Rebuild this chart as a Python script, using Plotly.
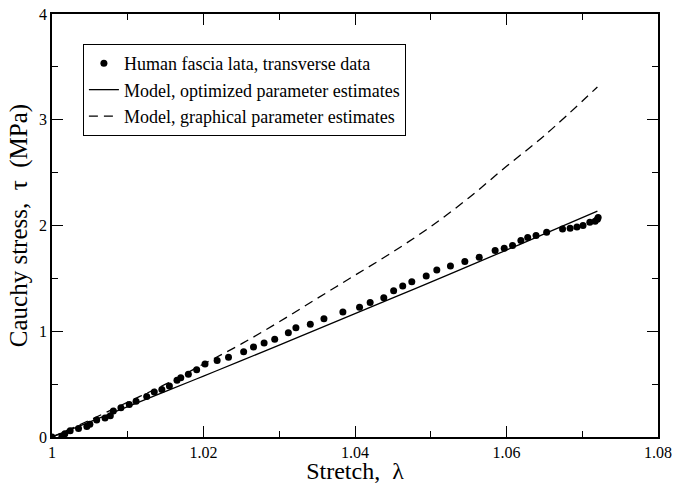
import plotly.graph_objects as go

# Experimental data (stretch, Cauchy stress in MPa)
data_stretch = [1.0000, 1.0013, 1.0017, 1.0024, 1.0035, 1.0046, 1.0050, 1.0059, 1.0070, 1.0077,
                1.0081, 1.0091, 1.0102, 1.0111, 1.0125, 1.0135, 1.0145, 1.0155, 1.0165, 1.0170,
                1.0180, 1.0191, 1.0202, 1.0218, 1.0233, 1.0253, 1.0266, 1.0280, 1.0294, 1.0312,
                1.0322, 1.0341, 1.0359, 1.0384, 1.0406, 1.0420, 1.0438, 1.0451, 1.0463, 1.0475,
                1.0494, 1.0508, 1.0526, 1.0545, 1.0564, 1.0585, 1.0597, 1.0608, 1.0619, 1.0628,
                1.0639, 1.0653, 1.0674, 1.0684, 1.0693, 1.0701, 1.0710, 1.0717, 1.0720, 1.0721]
data_stress = [0.000, 0.008, 0.030, 0.060, 0.080, 0.100, 0.120, 0.160, 0.180, 0.200,
               0.245, 0.277, 0.308, 0.337, 0.384, 0.425, 0.448, 0.482, 0.536, 0.560,
               0.593, 0.637, 0.690, 0.724, 0.755, 0.805, 0.852, 0.890, 0.925, 0.985,
               1.032, 1.067, 1.118, 1.181, 1.226, 1.273, 1.317, 1.383, 1.428, 1.469,
               1.523, 1.580, 1.618, 1.659, 1.700, 1.763, 1.785, 1.810, 1.858, 1.886,
               1.905, 1.937, 1.966, 1.975, 1.985, 2.000, 2.030, 2.040, 2.060, 2.075]

# Model curves
model_stretch = [1.000, 1.005, 1.010, 1.015, 1.020, 1.025, 1.030, 1.035, 1.040, 1.045,
                 1.050, 1.055, 1.060, 1.065, 1.072]
opt_stress = [0.000, 0.143, 0.287, 0.431, 0.576, 0.722, 0.869, 1.017, 1.166, 1.315,
              1.465, 1.616, 1.768, 1.920, 2.135]
graph_stress = [0.000, 0.160, 0.330, 0.500, 0.690, 0.880, 1.090, 1.310, 1.530, 1.750,
                1.990, 2.260, 2.560, 2.850, 3.310]

x_ticks = [1, 1.02, 1.04, 1.06, 1.08]
x_tick_labels = ["1", "1.02", "1.04", "1.06", "1.08"]
y_ticks = [0, 1, 2, 3, 4]
y_tick_labels = ["0", "1", "2", "3", "4"]

FONT = "Liberation Serif, Times New Roman, serif"

fig = go.Figure()
fig.add_trace(go.Scatter(x=data_stretch, y=data_stress, mode="markers",
                         name="Human fascia lata, transverse data",
                         marker=dict(color="black", size=7, symbol="circle")))
fig.add_trace(go.Scatter(x=model_stretch, y=opt_stress, mode="lines",
                         name="Model, optimized parameter estimates",
                         line=dict(color="black", width=1.3, shape="spline")))
fig.add_trace(go.Scatter(x=model_stretch, y=graph_stress, mode="lines",
                         name="Model, graphical parameter estimates",
                         line=dict(color="black", width=1.3, dash="9px,6px", shape="spline")))

axis_common = dict(
    showline=True, linecolor="black", linewidth=1.5, mirror="allticks",
    ticks="inside", ticklen=11, tickwidth=1, tickcolor="black",
    showgrid=False, zeroline=False, automargin=False,
    ticklabeloverflow="allow",
    tickfont=dict(family=FONT, size=16, color="black"),
)

fig.update_xaxes(range=[1, 1.08], tickvals=x_ticks, ticktext=x_tick_labels,
                 minor=dict(ticks="inside", ticklen=6, dtick=0.01, tickcolor="black", showgrid=False),
                 title=dict(text="Stretch,  λ", font=dict(family=FONT, size=24, color="black"),
                            standoff=1),
                 **axis_common)
fig.update_yaxes(range=[0, 4], tickvals=y_ticks, ticktext=y_tick_labels,
                 minor=dict(ticks="inside", ticklen=6, dtick=0.5, tickcolor="black", showgrid=False),
                 title=dict(text="Cauchy stress,  τ  (MPa)", font=dict(family=FONT, size=25, color="black"),
                            standoff=4),
                 **axis_common)

fig.update_layout(
    width=673, height=484,
    margin=dict(l=52, r=15, t=14, b=47),
    plot_bgcolor="white", paper_bgcolor="white",
    font=dict(family=FONT, color="black"),
    legend=dict(x=0.051, y=0.929, xanchor="left", yanchor="top",
                bordercolor="black", borderwidth=1, bgcolor="white",
                font=dict(family=FONT, size=18, color="black"),
                tracegroupgap=0),
    showlegend=True,
)

fig.write_html("out.html", config={"displayModeBar": False},
               post_script="document.body.style.margin='0';document.body.style.overflow='hidden';")
